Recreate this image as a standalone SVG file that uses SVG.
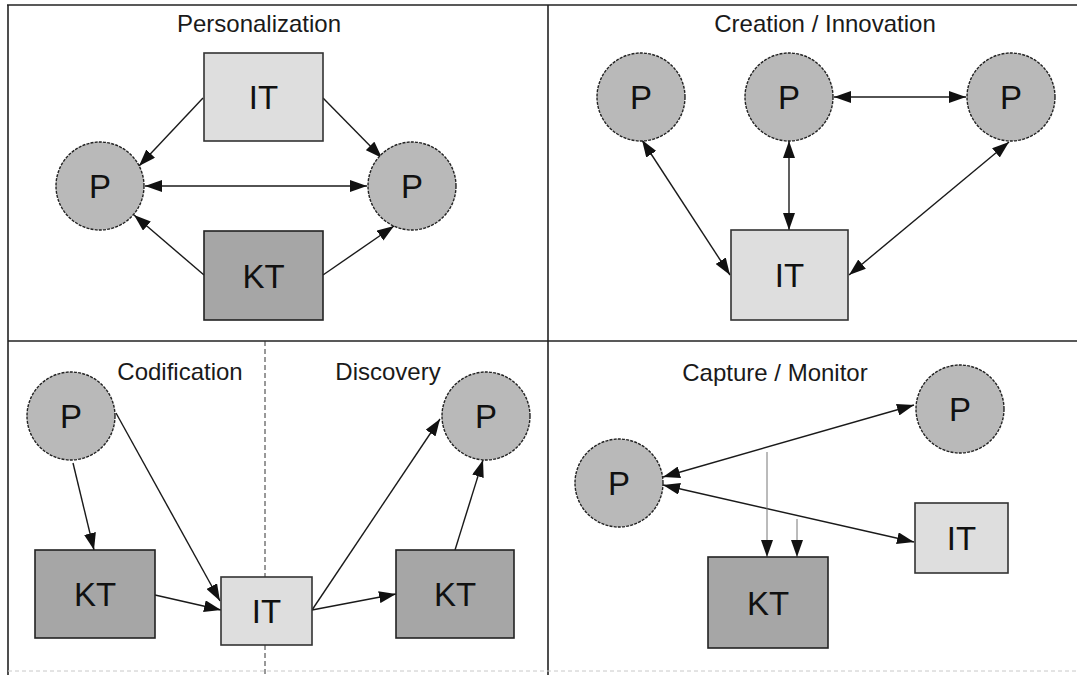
<svg xmlns="http://www.w3.org/2000/svg" width="1077" height="675" viewBox="0 0 1077 675">
  <style>
    .title { font-family: "Liberation Sans", Arial, sans-serif; font-size: 24px; fill: #1a1a1a; text-anchor: middle; }
    .lbl { font-family: "Liberation Sans", Arial, sans-serif; font-size: 33px; fill: #111; text-anchor: middle; }
    .person { fill: #b9b9b9; stroke: #222; stroke-width: 1.4; stroke-dasharray: 3 1.2; }
    .it { fill: #dedede; stroke: #333; stroke-width: 1.6; }
    .kt { fill: #a6a6a6; stroke: #222; stroke-width: 1.6; }
    .frame { stroke: #222; stroke-width: 1.6; fill: none; }
    .edge { stroke: #1a1a1a; stroke-width: 1.4; fill: none; }
    .thin { stroke: #777; stroke-width: 1; fill: none; }
  </style>
  <defs>
    <marker id="ah" viewBox="0 0 17 12" refX="17" refY="6" markerWidth="17" markerHeight="12" markerUnits="userSpaceOnUse" orient="auto-start-reverse">
      <path d="M0,0 L17,6 L0,12 z" fill="#111"/>
    </marker>
  </defs>
  <rect width="1077" height="675" fill="#ffffff"/>

  <!-- quadrant frame -->
  <g id="frame">
    <line class="frame" x1="7" y1="5" x2="1077" y2="5" stroke-width="2.2"/>
    <line class="frame" x1="8" y1="5" x2="8" y2="675"/>
    <line class="frame" x1="548" y1="5" x2="548" y2="675"/>
    <line class="frame" x1="8" y1="341" x2="1077" y2="341"/>
    <line x1="265" y1="341" x2="265" y2="675" stroke="#333" stroke-width="1" stroke-dasharray="5 3"/>
    <line x1="8" y1="671" x2="1077" y2="671" stroke="#c8c8c8" stroke-width="1" stroke-dasharray="4 3"/>
  </g>

  <!-- section titles -->
  <g id="titles">
    <text class="title" x="259" y="32">Personalization</text>
    <text class="title" x="825" y="32">Creation / Innovation</text>
    <text class="title" x="180" y="380">Codification</text>
    <text class="title" x="388" y="380">Discovery</text>
    <text class="title" x="775" y="381">Capture / Monitor</text>
  </g>

  <!-- connectors -->
  <g id="connectors">
    <!-- personalization -->
    <line class="edge" x1="203" y1="98" x2="139" y2="166" marker-end="url(#ah)"/>
    <line class="edge" x1="323" y1="98" x2="382" y2="158" marker-end="url(#ah)"/>
    <line class="edge" x1="145" y1="186" x2="367" y2="186" marker-start="url(#ah)" marker-end="url(#ah)"/>
    <line class="edge" x1="204" y1="275" x2="134" y2="215" marker-end="url(#ah)"/>
    <line class="edge" x1="323" y1="275" x2="394" y2="226" marker-end="url(#ah)"/>
    <!-- creation / innovation -->
    <line class="edge" x1="834" y1="97" x2="966" y2="97" marker-start="url(#ah)" marker-end="url(#ah)"/>
    <line class="edge" x1="642" y1="140" x2="730" y2="275" marker-start="url(#ah)" marker-end="url(#ah)"/>
    <line class="edge" x1="789" y1="141" x2="789" y2="230" marker-start="url(#ah)" marker-end="url(#ah)"/>
    <line class="edge" x1="1009" y1="142" x2="849" y2="275" marker-start="url(#ah)" marker-end="url(#ah)"/>
    <!-- codification -->
    <line class="edge" x1="73" y1="463" x2="94" y2="550" marker-end="url(#ah)"/>
    <line class="edge" x1="116" y1="413" x2="220" y2="601" marker-end="url(#ah)"/>
    <line class="edge" x1="155" y1="595" x2="221" y2="610" marker-end="url(#ah)"/>
    <!-- discovery -->
    <line class="edge" x1="312" y1="610" x2="440" y2="419" marker-end="url(#ah)"/>
    <line class="edge" x1="312" y1="610" x2="396" y2="594" marker-end="url(#ah)"/>
    <line class="edge" x1="455" y1="550" x2="483" y2="460" marker-end="url(#ah)"/>
    <!-- capture / monitor -->
    <line class="edge" x1="663" y1="477" x2="914" y2="405" marker-start="url(#ah)" marker-end="url(#ah)"/>
    <line class="edge" x1="663" y1="485" x2="914" y2="542" marker-start="url(#ah)" marker-end="url(#ah)"/>
    <line class="thin" x1="767" y1="452" x2="767" y2="557" marker-end="url(#ah)"/>
    <line class="thin" x1="797" y1="519" x2="797" y2="557" marker-end="url(#ah)"/>
  </g>

  <!-- personalization nodes -->
  <g id="pers-it"><rect class="it" x="204" y="53" width="119" height="88"/><text class="lbl" x="263.5" y="109">IT</text></g>
  <g id="pers-kt"><rect class="kt" x="204" y="231" width="119" height="89"/><text class="lbl" x="263.5" y="288">KT</text></g>
  <g id="pers-p1"><circle class="person" cx="100" cy="186" r="44"/><text class="lbl" x="100" y="198">P</text></g>
  <g id="pers-p2"><circle class="person" cx="412" cy="186" r="44"/><text class="lbl" x="412" y="198">P</text></g>

  <!-- creation / innovation nodes -->
  <g id="crea-p1"><circle class="person" cx="641" cy="97" r="44"/><text class="lbl" x="641" y="109">P</text></g>
  <g id="crea-p2"><circle class="person" cx="789" cy="97" r="44"/><text class="lbl" x="789" y="109">P</text></g>
  <g id="crea-p3"><circle class="person" cx="1011" cy="97" r="44"/><text class="lbl" x="1011" y="109">P</text></g>
  <g id="crea-it"><rect class="it" x="731" y="230" width="117" height="90"/><text class="lbl" x="789.5" y="287">IT</text></g>

  <!-- codification / discovery nodes -->
  <g id="cod-p"><circle class="person" cx="71" cy="416" r="44"/><text class="lbl" x="71" y="428">P</text></g>
  <g id="cod-kt"><rect class="kt" x="35" y="550" width="120" height="88"/><text class="lbl" x="95" y="606">KT</text></g>
  <g id="shared-it"><rect class="it" x="221" y="577" width="91" height="68"/><text class="lbl" x="266.5" y="623">IT</text></g>
  <g id="disc-kt"><rect class="kt" x="396" y="550" width="118" height="88"/><text class="lbl" x="455" y="606">KT</text></g>
  <g id="disc-p"><circle class="person" cx="486" cy="416" r="44"/><text class="lbl" x="486" y="428">P</text></g>

  <!-- capture / monitor nodes -->
  <g id="cap-p1"><circle class="person" cx="619" cy="483" r="44"/><text class="lbl" x="619" y="495">P</text></g>
  <g id="cap-p2"><circle class="person" cx="960" cy="409" r="44"/><text class="lbl" x="960" y="421">P</text></g>
  <g id="cap-it"><rect class="it" x="915" y="503" width="93" height="70"/><text class="lbl" x="961.5" y="550">IT</text></g>
  <g id="cap-kt"><rect class="kt" x="708" y="557" width="120" height="91"/><text class="lbl" x="768" y="615">KT</text></g>
</svg>
